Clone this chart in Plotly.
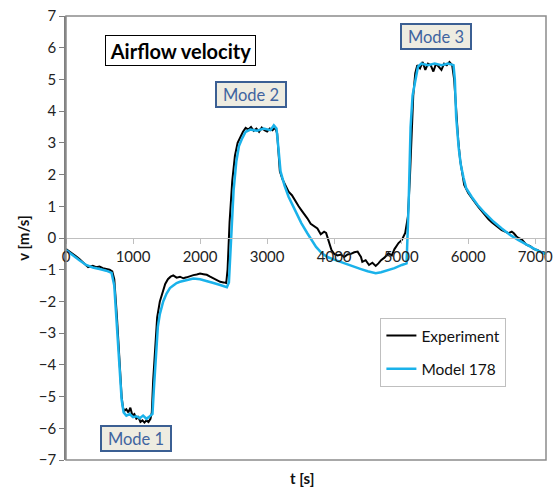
import plotly.graph_objects as go

# Experiment data (t [s], v [m/s])
exp_t = [0, 50, 100, 150, 200, 250, 300, 330, 360, 400, 450, 500, 550, 600, 650, 690,
         720, 760, 800, 830, 850, 870, 900, 930, 960, 990, 1020, 1050, 1080, 1110, 1140,
         1170, 1200, 1230, 1260, 1280, 1300, 1330, 1360, 1400, 1440, 1480, 1520, 1560,
         1600, 1650, 1700, 1750, 1800, 1850, 1900, 1950, 2000, 2050, 2100, 2150, 2200,
         2250, 2300, 2350, 2390, 2410, 2440, 2480, 2520, 2560, 2600, 2640, 2680, 2720,
         2760, 2800, 2840, 2880, 2920, 2960, 3000, 3040, 3080, 3120, 3150, 3190, 3230,
         3280, 3320, 3370, 3420, 3470, 3510, 3560, 3600, 3650, 3700, 3750, 3800, 3850,
         3880, 3920, 3960, 4000, 4050, 4100, 4150, 4200, 4250, 4300, 4350, 4400, 4420,
         4470, 4520, 4570, 4620, 4660, 4700, 4750, 4810, 4860, 4900, 4960, 5010, 5060,
         5100, 5130, 5160, 5180, 5210, 5240, 5280, 5320, 5360, 5400, 5440, 5480, 5520,
         5560, 5600, 5640, 5680, 5720, 5760, 5790, 5820, 5850, 5880, 5910, 5940, 6000,
         6050, 6090, 6150, 6200, 6240, 6300, 6350, 6430, 6500, 6550, 6600, 6650, 6680,
         6720, 6750, 6800, 6870, 6920, 6980, 7030, 7070, 7120, 7160]
exp_v = [-0.35, -0.42, -0.5, -0.58, -0.66, -0.75, -0.85, -0.92, -0.9, -0.88, -0.92, -0.9,
         -0.95, -0.97, -1.0, -1.05, -1.3, -2.5, -4.0, -5.0, -5.35, -5.45, -5.4, -5.5,
         -5.35, -5.6, -5.55, -5.7, -5.65, -5.8, -5.75, -5.82, -5.75, -5.8, -5.7, -5.5,
         -4.5, -3.3, -2.5, -2.0, -1.7, -1.45, -1.3, -1.22, -1.18, -1.25, -1.22, -1.27,
         -1.24, -1.2, -1.17, -1.15, -1.12, -1.14, -1.16, -1.22, -1.28, -1.33, -1.38, -1.4,
         -1.42, -1.0, 0.5, 1.8, 2.6, 3.0, 3.2, 3.35, 3.47, 3.42, 3.5, 3.38, 3.45, 3.35,
         3.48, 3.4, 3.36, 3.45, 3.4, 3.48, 3.3, 2.1, 1.85, 1.6, 1.46, 1.35, 1.15, 1.0,
         0.88, 0.75, 0.62, 0.45, 0.36, 0.3, 0.12, 0.2, 0.16, -0.1, -0.38, -0.5, -0.55,
         -0.52, -0.6, -0.52, -0.5, -0.45, -0.43, -0.6, -0.75, -0.7, -0.85, -0.78, -0.88,
         -0.8, -0.7, -0.62, -0.48, -0.55, -0.35, -0.16, -0.06, 0.16, 0.67, 1.9, 3.5, 4.5,
         5.2, 5.45, 5.35, 5.55, 5.3, 5.5, 5.45, 5.25, 5.5, 5.4, 5.3, 5.5, 5.45, 5.55,
         5.45, 5.0, 4.0, 3.1, 2.45, 2.0, 1.67, 1.42, 1.25, 1.15, 0.98, 0.85, 0.73, 0.6,
         0.5, 0.36, 0.25, 0.2, 0.15, 0.2, 0.15, 0.05, 0.0, -0.05, -0.22, -0.25, -0.35,
         -0.38, -0.43, -0.45, -0.47]

# Model 178 data
mod_t = [0, 100, 200, 300, 400, 500, 600, 680, 720, 760, 800, 830, 860, 900, 950, 1000,
         1050, 1100, 1150, 1200, 1250, 1290, 1310, 1340, 1370, 1400, 1450, 1500, 1550,
         1600, 1650, 1700, 1800, 1900, 2000, 2100, 2200, 2300, 2400, 2430, 2460, 2500,
         2540, 2580, 2630, 2680, 2750, 2850, 2950, 3050, 3100, 3140, 3170, 3200, 3260,
         3320, 3400, 3510, 3600, 3660, 3730, 3810, 3900, 4000, 4100, 4180, 4300, 4400,
         4500, 4620, 4700, 4800, 4900, 5010, 5080, 5110, 5140, 5170, 5210, 5250, 5300,
         5400, 5500, 5600, 5700, 5780, 5800, 5820, 5860, 5890, 5930, 5970, 6050, 6140,
         6250, 6380, 6500, 6630, 6750, 6870, 7000, 7120, 7160]
mod_v = [-0.38, -0.55, -0.7, -0.85, -0.93, -0.98, -1.03, -1.1, -1.5, -2.8, -4.3, -5.1,
         -5.5, -5.6, -5.55, -5.65, -5.62, -5.68, -5.6, -5.7, -5.62, -5.55, -4.8, -3.6,
         -2.8, -2.4, -2.0, -1.75, -1.58, -1.5, -1.42, -1.38, -1.32, -1.28, -1.3, -1.35,
         -1.42, -1.48, -1.55, -1.4, 0.0, 1.5, 2.4, 2.9, 3.15, 3.35, 3.42, 3.38, 3.45, 3.4,
         3.55, 3.45, 2.8, 2.1, 1.65, 1.3, 0.95, 0.47, 0.15, -0.06, -0.28, -0.47, -0.6,
         -0.68, -0.76, -0.8, -0.9, -0.98, -1.05, -1.11, -1.08, -1.02, -0.95, -0.85, -0.8,
         1.0, 3.5, 4.5, 5.0, 5.4, 5.5, 5.45, 5.5, 5.45, 5.5, 5.45, 5.0, 3.8, 2.8, 2.3,
         1.9, 1.57, 1.3, 1.04, 0.78, 0.51, 0.3, 0.09, -0.07, -0.22, -0.36, -0.48, -0.5]

FONT = "Lato"

fig = go.Figure()
fig.add_trace(go.Scatter(x=exp_t, y=exp_v, mode="lines", name="Experiment",
                         line=dict(color="#000000", width=2), legendgroup="a"))
fig.add_trace(go.Scatter(x=mod_t, y=mod_v, mode="lines", name="Model 178",
                         line=dict(color="#1ab2ea", width=2.5), legendgroup="b"))

fig.update_layout(
    width=557, height=487,
    margin=dict(l=66, r=4, t=16, b=27),
    paper_bgcolor="white", plot_bgcolor="white",
    font=dict(family=FONT, size=15, color="#222222"),
    showlegend=True,
    legend=dict(x=0.655, y=0.32, xanchor="left", yanchor="top",
                bordercolor="#bfbfbf", borderwidth=1, bgcolor="white",
                font=dict(family=FONT, size=15.5, color="#111111"),
                traceorder="grouped", tracegroupgap=10, itemwidth=30),
    xaxis=dict(range=[0, 7160], dtick=1000, tick0=0, anchor="free", position=0.5,
               showline=True, linecolor="#bfbfbf", linewidth=1,
               ticks="outside", ticklen=5, tickcolor="#bfbfbf",
               showgrid=False, zeroline=False, ticklabeloverflow="allow",
               tickfont=dict(family=FONT, size=15, color="#222222")),
    yaxis=dict(range=[-7, 7], dtick=1, tick0=0, domain=[0, 1],
               showline=True, linecolor="#7f7f7f", linewidth=1.5,
               ticks="outside", ticklen=5, tickcolor="#7f7f7f",
               showgrid=False, zeroline=False,
               tickfont=dict(family=FONT, size=15, color="#222222")),
    shapes=[dict(type="rect", xref="paper", yref="paper", x0=0, x1=1, y0=0, y1=1,
                 line=dict(color="#8c8c8c", width=1.5), layer="above")],
)

box = dict(font=dict(family=FONT, size=16.5, color="#3f64a0"), bgcolor="#eeece1",
           bordercolor="#3b5f93", borderwidth=2, borderpad=1, width=66, height=21,
           showarrow=False, xref="paper", yref="paper", xanchor="center", yanchor="middle")

fig.add_annotation(text="Mode 1", x=0.1458, y=0.0473, **box)
fig.add_annotation(text="Mode 2", x=0.386, y=0.824, **box)
fig.add_annotation(text="Mode 3", x=0.771, y=0.953, **box)

fig.add_annotation(text="<b>Airflow velocity</b>", x=0.2392, y=0.9223, xref="paper", yref="paper",
                   showarrow=False, font=dict(family=FONT, size=20, color="#000000"),
                   bgcolor="white", bordercolor="#000000", borderwidth=1, borderpad=1,
                   width=147, height=27, xanchor="center", yanchor="middle")

fig.add_annotation(text="<b>v [m/s]</b>", x=-0.0903, y=0.5, xref="paper", yref="paper",
                   showarrow=False, textangle=-90, font=dict(family=FONT, size=15, color="#111111"),
                   xanchor="center", yanchor="middle")
fig.add_annotation(text="<b>t [s]</b>", x=0.491, y=-0.0405, xref="paper", yref="paper",
                   showarrow=False, font=dict(family=FONT, size=15, color="#111111"),
                   xanchor="center", yanchor="middle")

fig.write_html("out.html", config={"displayModeBar": False},
               post_script="document.body.style.margin='0px';")
